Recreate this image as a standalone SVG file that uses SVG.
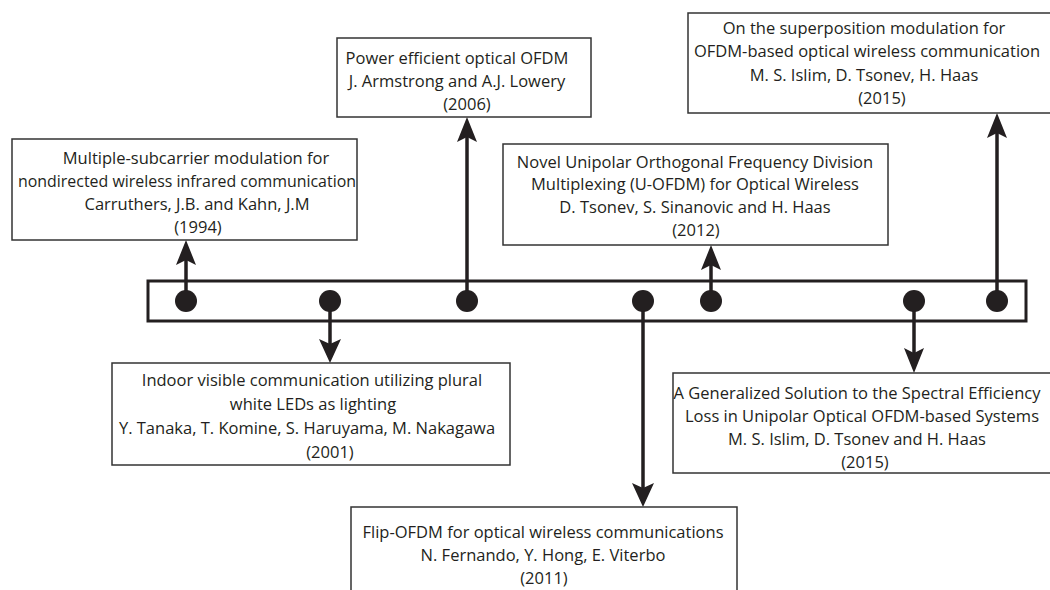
<svg xmlns="http://www.w3.org/2000/svg" width="1050" height="590" viewBox="0 0 1050 590">
<style>
.box{fill:#fff;stroke:#333;stroke-width:1.5}
.t{font-family:"Open Sans","Liberation Sans",sans-serif;font-size:16.5px;fill:#231f20;text-anchor:middle}
.sh{stroke:#231f20;stroke-width:3.5;fill:none}
.hd{fill:#231f20}
.dot{fill:#231f20}
.bar{fill:#fff;stroke:#231f20;stroke-width:3}
</style>
<rect width="1050" height="590" fill="#fff"/>
<g id="timeline">
<rect class="bar" x="148" y="281" width="878" height="40"/>
</g>
<g id="connectors">
<line class="sh" x1="186" y1="301" x2="186" y2="258"/>
<path class="hd" d="M186,240 L196,265 L186,260 L176,265 Z"/>
<line class="sh" x1="467" y1="301" x2="467" y2="135"/>
<path class="hd" d="M467,117 L477,142 L467,137 L457,142 Z"/>
<line class="sh" x1="711" y1="301" x2="711" y2="263"/>
<path class="hd" d="M711,245 L721,270 L711,265 L701,270 Z"/>
<line class="sh" x1="997" y1="301" x2="997" y2="131"/>
<path class="hd" d="M997,113 L1007,138 L997,133 L987,138 Z"/>
<line class="sh" x1="330" y1="301" x2="330" y2="345"/>
<path class="hd" d="M330,363 L341,339 L330,344 L319,339 Z"/>
<line class="sh" x1="643" y1="301" x2="643" y2="489"/>
<path class="hd" d="M643,507 L654,483 L643,488 L632,483 Z"/>
<line class="sh" x1="914" y1="301" x2="914" y2="355"/>
<path class="hd" d="M914,373 L924,348 L914,353 L904,348 Z"/>
</g>
<g id="dots">
<circle class="dot" cx="186" cy="301" r="11"/>
<circle class="dot" cx="330" cy="301" r="11"/>
<circle class="dot" cx="467" cy="301" r="11"/>
<circle class="dot" cx="643" cy="301" r="11"/>
<circle class="dot" cx="711" cy="301" r="11"/>
<circle class="dot" cx="914" cy="301" r="11"/>
<circle class="dot" cx="997" cy="301" r="11"/>
</g>
<g id="n1994">
<rect class="box" x="12" y="139" width="345" height="101"/>
<text class="t" x="196" y="164">Multiple-subcarrier modulation for</text>
<text class="t" x="187" y="187" textLength="338" lengthAdjust="spacingAndGlyphs">nondirected wireless infrared communication</text>
<text class="t" x="197" y="210">Carruthers, J.B. and Kahn, J.M</text>
<text class="t" x="198" y="233">(1994)</text>
</g>
<g id="n2006">
<rect class="box" x="337" y="38" width="254" height="79"/>
<text class="t" x="457" y="64">Power efficient optical OFDM</text>
<text class="t" x="457" y="87">J. Armstrong and A.J. Lowery</text>
<text class="t" x="467" y="110">(2006)</text>
</g>
<g id="n2015a">
<rect class="box" x="688" y="13" width="370" height="100"/>
<text class="t" x="864" y="34">On the superposition modulation for</text>
<text class="t" x="867" y="57">OFDM-based optical wireless communication</text>
<text class="t" x="864" y="81">M. S. Islim, D. Tsonev, H. Haas</text>
<text class="t" x="882" y="104">(2015)</text>
</g>
<g id="n2012">
<rect class="box" x="503" y="144" width="385" height="101"/>
<text class="t" x="695" y="168">Novel Unipolar Orthogonal Frequency Division</text>
<text class="t" x="695" y="190">Multiplexing (U-OFDM) for Optical Wireless</text>
<text class="t" x="695" y="213">D. Tsonev, S. Sinanovic and H. Haas</text>
<text class="t" x="696" y="236">(2012)</text>
</g>
<g id="n2001">
<rect class="box" x="112" y="363" width="398" height="102"/>
<text class="t" x="312" y="386">Indoor visible communication utilizing plural</text>
<text class="t" x="313" y="410">white LEDs as lighting</text>
<text class="t" x="307" y="434">Y. Tanaka, T. Komine, S. Haruyama, M. Nakagawa</text>
<text class="t" x="330" y="458">(2001)</text>
</g>
<g id="n2015b">
<rect class="box" x="673" y="373" width="385" height="100"/>
<text class="t" x="857" y="399">A Generalized Solution to the Spectral Efficiency</text>
<text class="t" x="862" y="422">Loss in Unipolar Optical OFDM-based Systems</text>
<text class="t" x="857" y="445">M. S. Islim, D. Tsonev and H. Haas</text>
<text class="t" x="865" y="468">(2015)</text>
</g>
<g id="n2011">
<rect class="box" x="351" y="507" width="386" height="100"/>
<text class="t" x="543" y="538">Flip-OFDM for optical wireless communications</text>
<text class="t" x="543" y="561">N. Fernando, Y. Hong, E. Viterbo</text>
<text class="t" x="544" y="584">(2011)</text>
</g>
</svg>
